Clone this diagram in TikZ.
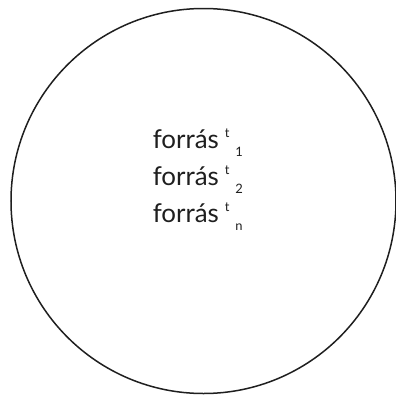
\documentclass[tikz,border=0pt]{standalone}
\usepackage{fontspec}
\setmainfont{Lato}
\newcommand{\forras}[1]{forrás\hspace{6bp}{\fontsize{13}{13}\selectfont\raisebox{11bp}{t}\hspace{6bp}\raisebox{-8bp}{#1}}}

\begin{document}
\begin{tikzpicture}[x=1bp,y=-1bp,line width=1.5bp,color={black!88}]
			\useasboundingbox (0,0) rectangle (396,396);
			\node[draw,circle,minimum size=385bp,inner sep=0pt] (kor) at (203.5,201) {};
			\node[anchor=base west,inner sep=0pt,font=\fontsize{26}{26}\selectfont] (f1) at (152,148) {\forras{1}};
			\node[anchor=base west,inner sep=0pt,font=\fontsize{26}{26}\selectfont] (f2) at (152,185) {\forras{2}};
			\node[anchor=base west,inner sep=0pt,font=\fontsize{26}{26}\selectfont] (fn) at (152,222) {\forras{n}};
		\end{tikzpicture}
\end{document}
